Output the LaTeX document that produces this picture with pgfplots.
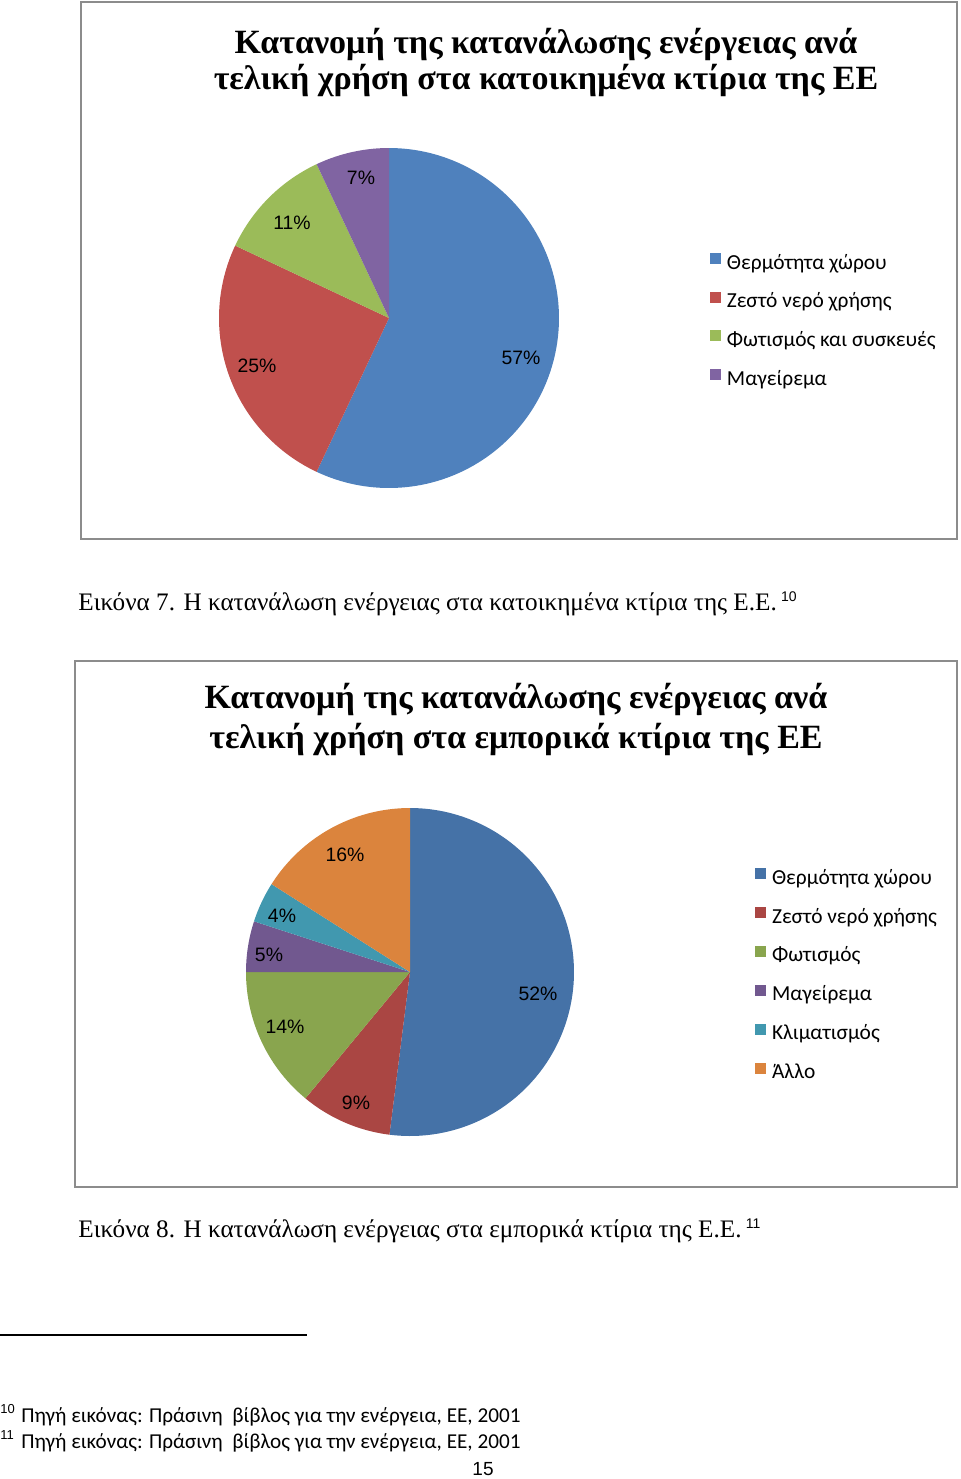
\documentclass[border=0pt]{standalone}
\usepackage{fontspec}
\setmainfont{Liberation Serif}
\newfontfamily\calibri{Carlito}
\newfontfamily\arial{Liberation Sans}
\usepackage{pgfplots}
\pgfplotsset{compat=1.18}
\definecolor{b1}{HTML}{4F81BD}
\definecolor{r1}{HTML}{C0504D}
\definecolor{g1}{HTML}{9BBB59}
\definecolor{p1}{HTML}{8064A2}
\definecolor{b2}{HTML}{4572A7}
\definecolor{r2}{HTML}{AA4643}
\definecolor{g2}{HTML}{89A54E}
\definecolor{p2}{HTML}{71588F}
\definecolor{t2}{HTML}{4198AF}
\definecolor{o2}{HTML}{DB843D}
\definecolor{frame}{HTML}{8C8C8C}
\pgfplotsset{
  piestyle/.style={
    hide axis, clip=false, x=0.5pt, y=0.5pt, anchor=center,
    legend cell align=left,
    legend image code/.code={\fill[##1] (0pt,0.3pt) rectangle (5.5pt,5.8pt);},
  },
}
\begin{document}
\begin{tikzpicture}
\begin{scope}[x=0.5pt,y=-0.5pt]
\draw[frame, line width=0.75pt] (81,2) rectangle (957,539);
\draw[frame, line width=0.75pt] (75,661) rectangle (957,1187);
\node[anchor=base, font=\bfseries\fontsize{17}{19}\selectfont, inner sep=0pt] at (546,53) {Κατανομή της κατανάλωσης ενέργειας ανά};
\node[anchor=base, font=\bfseries\fontsize{17}{19}\selectfont, inner sep=0pt] at (546,89) {τελική χρήση στα κατοικημένα κτίρια της ΕΕ};
\node[anchor=base, font=\bfseries\fontsize{17}{19}\selectfont, inner sep=0pt] at (516,708) {Κατανομή της κατανάλωσης ενέργειας ανά};
\node[anchor=base, font=\bfseries\fontsize{17}{19}\selectfont, inner sep=0pt] at (516,748) {τελική χρήση στα εμπορικά κτίρια της ΕΕ};
\node[anchor=base west, font=\fontsize{12.6}{14}\selectfont, inner sep=0pt] at (78,610) {Εικόνα 7. Η κατανάλωση ενέργειας στα κατοικημένα κτίρια της Ε.Ε.\,\textsuperscript{\arial\fontsize{7}{8}\selectfont 10}};
\node[anchor=base west, font=\fontsize{12.6}{14}\selectfont, inner sep=0pt] at (78,1237) {Εικόνα 8. Η κατανάλωση ενέργειας στα εμπορικά κτίρια της Ε.Ε.\,\textsuperscript{\arial\fontsize{7}{8}\selectfont 11}};
\draw[black, line width=0.6pt] (0,1335) -- (307,1335);
\node[anchor=base west, font=\arial\fontsize{6.5}{7}\selectfont, inner sep=0pt] at (0,1413) {10};
\node[anchor=base west, font=\arial\fontsize{6.5}{7}\selectfont, inner sep=0pt] at (0,1439) {11};
\node[anchor=base west, font=\calibri\fontsize{10.6}{12}\selectfont, inner sep=0pt] at (21,1422) {Πηγή εικόνας: Πράσινη\ \ βίβλος για την ενέργεια, ΕΕ, 2001};
\node[anchor=base west, font=\calibri\fontsize{10.6}{12}\selectfont, inner sep=0pt] at (21,1448) {Πηγή εικόνας: Πράσινη\ \ βίβλος για την ενέργεια, ΕΕ, 2001};
\node[anchor=base, font=\arial\fontsize{9.5}{10}\selectfont, inner sep=0pt] at (483,1475) {15};
\end{scope}

% Chart 1
\begin{axis}[piestyle, at={(194.5pt,-159pt)},
  xmin=-170, xmax=170, ymin=-170, ymax=170,
  legend style={at={(1.444,0.691)}, anchor=north west, draw=none, fill=none,
    inner sep=0pt, outer sep=0pt, font=\calibri\fontsize{10.7}{12}\selectfont,
    row sep=8.8pt, column sep=3pt,
    nodes={inner sep=0pt, text height=7pt, text depth=2.5pt}},
]
\addplot[fill=b1, draw=none, domain=-115.2:90, samples=120] ({170*cos(x)},{170*sin(x)}) -- (axis cs:0,0) -- cycle;
\addlegendentry{Θερμότητα χώρου}
\addplot[fill=r1, draw=none, domain=-205.2:-115.2, samples=60] ({170*cos(x)},{170*sin(x)}) -- (axis cs:0,0) -- cycle;
\addlegendentry{Ζεστό νερό χρήσης}
\addplot[fill=g1, draw=none, domain=115.2:154.8, samples=30] ({170*cos(x)},{170*sin(x)}) -- (axis cs:0,0) -- cycle;
\addlegendentry{Φωτισμός και συσκευές}
\addplot[fill=p1, draw=none, domain=90:115.2, samples=20] ({170*cos(x)},{170*sin(x)}) -- (axis cs:0,0) -- cycle;
\addlegendentry{Μαγείρεμα}
\node[font=\arial\fontsize{9.7}{10}\selectfont] at (axis cs:132,-40) {57\%};
\node[font=\arial\fontsize{9.7}{10}\selectfont] at (axis cs:-132,-48) {25\%};
\node[font=\arial\fontsize{9.7}{10}\selectfont] at (axis cs:-97,95) {11\%};
\node[font=\arial\fontsize{9.7}{10}\selectfont] at (axis cs:-28,140) {7\%};
\end{axis}

% Chart 2
\begin{axis}[piestyle, at={(205pt,-486pt)},
  xmin=-164, xmax=164, ymin=-164, ymax=164,
  legend style={at={(1.552,0.817)}, anchor=north west, draw=none, fill=none,
    inner sep=0pt, outer sep=0pt, font=\calibri\fontsize{10.7}{12}\selectfont,
    row sep=8.9pt, column sep=3pt,
    nodes={inner sep=0pt, text height=7pt, text depth=2.5pt}},
]
\addplot[fill=b2, draw=none, domain=-97.2:90, samples=110] ({164*cos(x)},{164*sin(x)}) -- (axis cs:0,0) -- cycle;
\addlegendentry{Θερμότητα χώρου}
\addplot[fill=r2, draw=none, domain=-129.6:-97.2, samples=25] ({164*cos(x)},{164*sin(x)}) -- (axis cs:0,0) -- cycle;
\addlegendentry{Ζεστό νερό χρήσης}
\addplot[fill=g2, draw=none, domain=-180:-129.6, samples=35] ({164*cos(x)},{164*sin(x)}) -- (axis cs:0,0) -- cycle;
\addlegendentry{Φωτισμός}
\addplot[fill=p2, draw=none, domain=162:180, samples=15] ({164*cos(x)},{164*sin(x)}) -- (axis cs:0,0) -- cycle;
\addlegendentry{Μαγείρεμα}
\addplot[fill=t2, draw=none, domain=147.6:162, samples=15] ({164*cos(x)},{164*sin(x)}) -- (axis cs:0,0) -- cycle;
\addlegendentry{Κλιματισμός}
\addplot[fill=o2, draw=none, domain=90:147.6, samples=40] ({164*cos(x)},{164*sin(x)}) -- (axis cs:0,0) -- cycle;
\addlegendentry{Άλλο}
\node[font=\arial\fontsize{9.7}{10}\selectfont] at (axis cs:-65,117) {16\%};
\node[font=\arial\fontsize{9.7}{10}\selectfont] at (axis cs:-128,56) {4\%};
\node[font=\arial\fontsize{9.7}{10}\selectfont] at (axis cs:-141,17) {5\%};
\node[font=\arial\fontsize{9.7}{10}\selectfont] at (axis cs:128,-22) {52\%};
\node[font=\arial\fontsize{9.7}{10}\selectfont] at (axis cs:-125,-55) {14\%};
\node[font=\arial\fontsize{9.7}{10}\selectfont] at (axis cs:-54,-131) {9\%};
\end{axis}

\pgfresetboundingbox
\path[use as bounding box] (0,0) rectangle (480pt,-739.5pt);
\end{tikzpicture}
\end{document}
